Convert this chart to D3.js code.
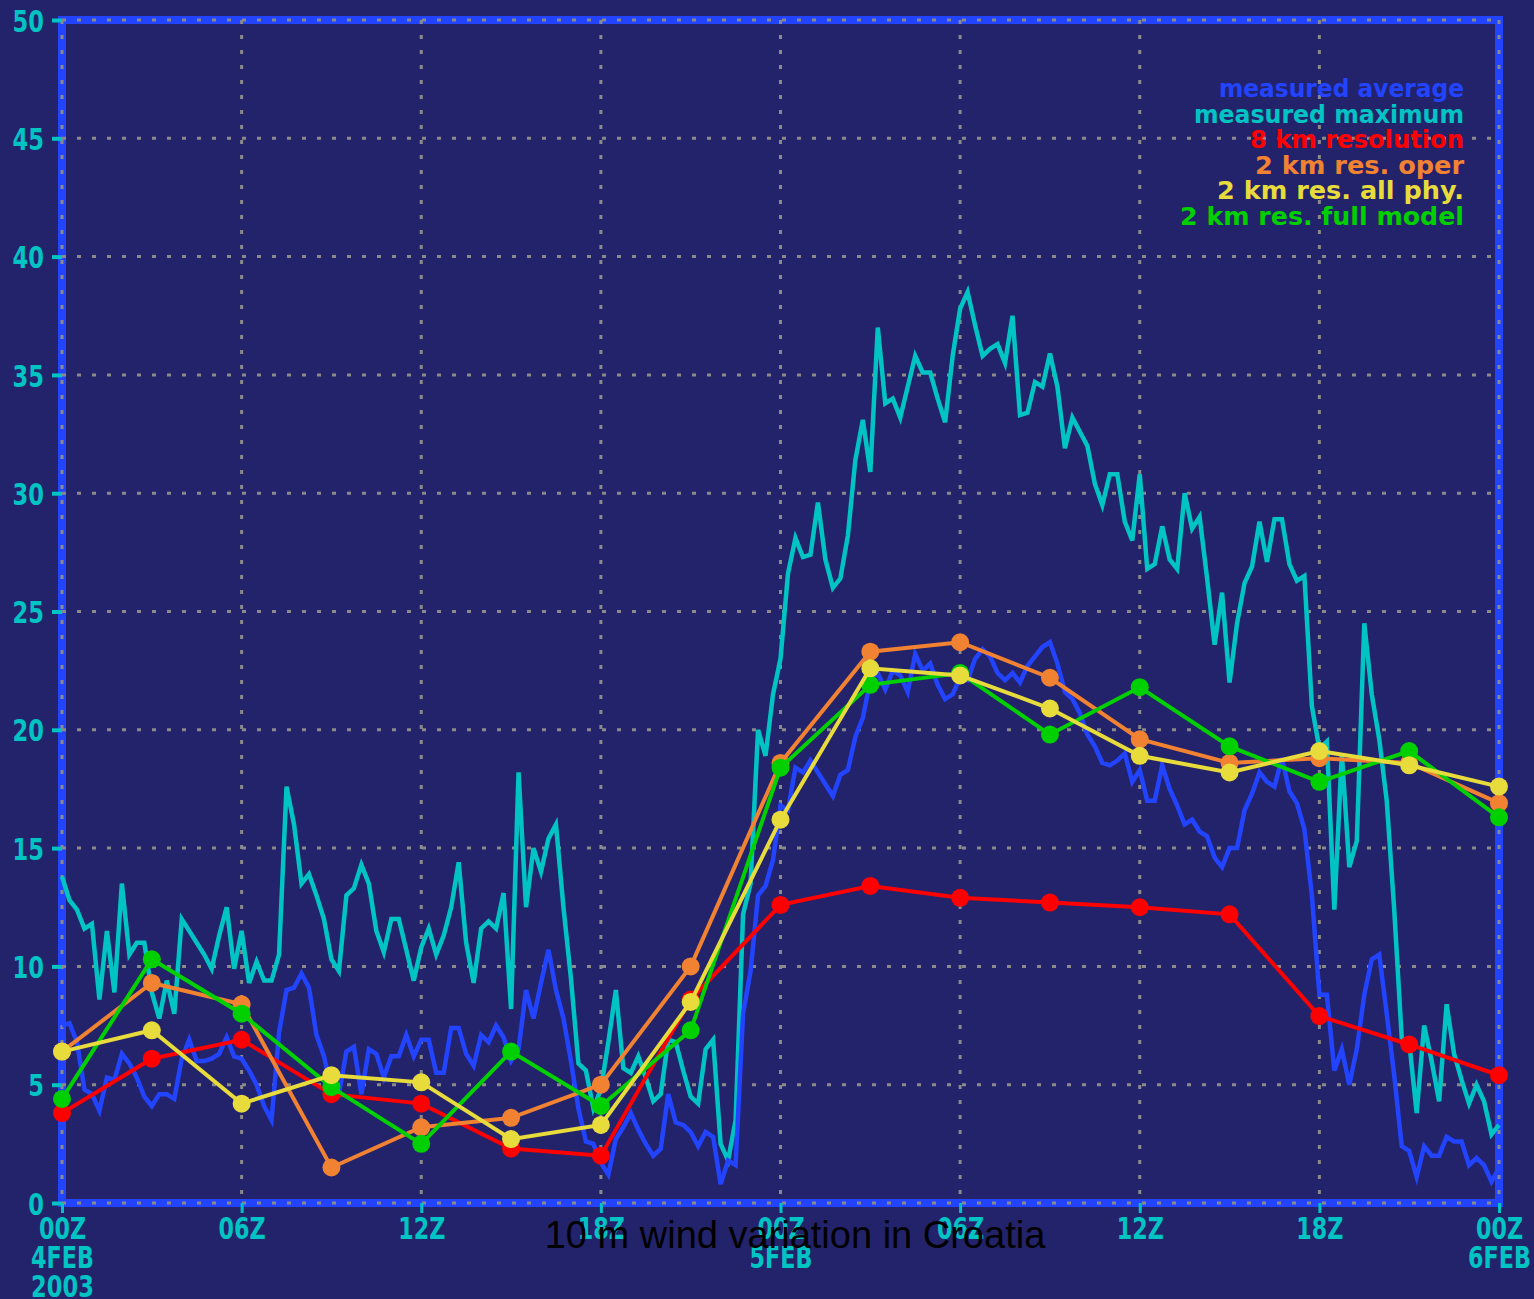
<!DOCTYPE html>
<html>
<head>
<meta charset="utf-8">
<script src="https://cdn.jsdelivr.net/npm/d3@7"></script>
<style>
  body { margin: 0; background: #23236b; }
  svg { display: block; }
</style>
</head>
<body>
<script>

// model runs, every 3 hours from 00Z 4 FEB 2003
var modelHours = [0, 3, 6, 9, 12, 15, 18, 21, 24, 27, 30, 33, 36, 39, 42, 45, 48];
var res8km   = [3.8, 6.1, 6.9, 4.6, 4.2, 2.3, 2.0, 8.6, 12.6, 13.4, 12.9, 12.7, 12.5, 12.2, 7.9, 6.7, 5.4];
var res2oper = [6.4, 9.3, 8.4, 1.5, 3.2, 3.6, 5.0, 10.0, 18.6, 23.3, 23.7, 22.2, 19.6, 18.6, 18.8, 18.6, 16.9];
var res2phy  = [6.4, 7.3, 4.2, 5.4, 5.1, 2.7, 3.3, 8.5, 16.2, 22.6, 22.3, 20.9, 18.9, 18.2, 19.1, 18.5, 17.6];
var res2full = [4.4, 10.3, 8.0, 4.9, 2.5, 6.4, 4.1, 7.3, 18.4, 21.9, 22.4, 19.8, 21.8, 19.3, 17.8, 19.1, 16.3];

// measurements, every 15 minutes
var measStep = 0.25;
var measMax = [
  13.8, 12.8, 12.4, 11.6, 11.8, 8.6, 11.5, 8.9, 13.5, 10.5, 11.0, 11.0, 8.9, 7.8, 9.4, 8.0,
  12.0, 11.5, 11.0, 10.5, 9.9, 11.3, 12.5, 9.9, 11.5, 9.3, 10.2, 9.4, 9.4, 10.5, 17.6, 16.0,
  13.5, 13.9, 13.0, 12.0, 10.3, 9.8, 13.0, 13.3, 14.3, 13.5, 11.5, 10.6, 12.0, 12.0, 10.7, 9.4,
  10.8, 11.6, 10.5, 11.3, 12.5, 14.4, 11.0, 9.3, 11.6, 11.9, 11.6, 13.1, 8.2, 18.2, 12.5, 15.0,
  14.0, 15.4, 16.0, 12.5, 9.5, 5.9, 5.6, 4.0, 4.8, 6.8, 9.0, 5.7, 5.5, 6.2, 5.3, 4.3,
  4.6, 6.9, 6.8, 5.6, 4.5, 4.2, 6.5, 6.9, 2.5, 1.8, 3.5, 12.2, 13.5, 20.0, 18.9, 21.5,
  23.0, 26.6, 28.1, 27.3, 27.4, 29.6, 27.2, 26.0, 26.4, 28.2, 31.4, 33.1, 30.9, 37.0, 33.8, 34.0,
  33.2, 34.5, 35.8, 35.1, 35.1, 34.0, 33.0, 35.8, 37.8, 38.5, 37.1, 35.8, 36.1, 36.3, 35.5, 37.5,
  33.3, 33.4, 34.7, 34.5, 35.9, 34.5, 31.9, 33.2, 32.6, 32.0, 30.4, 29.5, 30.8, 30.8, 28.8, 28.0,
  30.8, 26.8, 27.0, 28.6, 27.2, 26.8, 30.0, 28.5, 29.0, 26.4, 23.6, 25.8, 22.0, 24.5, 26.2, 26.9,
  28.8, 27.1, 28.9, 28.9, 27.0, 26.3, 26.5, 21.0, 19.2, 19.5, 12.4, 19.0, 14.2, 15.3, 24.5, 21.5,
  19.6, 17.0, 12.4, 7.0, 6.8, 3.8, 7.5, 6.0, 4.3, 8.4, 6.3, 5.2, 4.2, 5.0, 4.3, 2.9,
  3.3
];
var measAvg = [
  7.5, 7.6, 6.8, 4.8, 4.6, 3.9, 5.3, 5.2, 6.3, 5.9, 5.3, 4.5, 4.1, 4.6, 4.6, 4.4,
  6.1, 6.9, 6.0, 6.0, 6.1, 6.3, 7.0, 6.2, 6.1, 5.6, 5.0, 4.1, 3.5, 7.2, 9.0, 9.1,
  9.7, 9.1, 7.1, 6.2, 4.8, 4.6, 6.4, 6.6, 4.6, 6.5, 6.3, 5.3, 6.2, 6.2, 7.1, 6.2,
  6.9, 6.9, 5.5, 5.5, 7.4, 7.4, 6.3, 5.8, 7.1, 6.8, 7.5, 7.0, 6.0, 6.5, 9.0, 7.8,
  9.3, 10.7, 9.0, 7.8, 6.0, 4.0, 2.6, 2.5, 1.7, 1.2, 2.7, 3.2, 3.8, 3.1, 2.5, 2.0,
  2.3, 4.6, 3.4, 3.3, 3.0, 2.4, 3.0, 2.8, 0.8, 1.8, 1.6, 8.0, 9.8, 13.0, 13.4, 14.5,
  16.8, 16.6, 18.4, 18.2, 18.7, 18.2, 17.7, 17.2, 18.1, 18.3, 19.7, 20.5, 22.1, 22.4, 21.7, 22.5,
  22.3, 21.6, 23.2, 22.5, 22.8, 21.9, 21.3, 21.5, 22.2, 22.1, 23.0, 23.4, 23.1, 22.4, 22.1, 22.4,
  22.0, 22.7, 23.1, 23.5, 23.7, 22.8, 21.6, 21.3, 20.7, 19.8, 19.3, 18.6, 18.5, 18.7, 19.0, 17.8,
  18.3, 17.0, 17.0, 18.5, 17.5, 16.8, 16.0, 16.2, 15.7, 15.5, 14.6, 14.2, 15.0, 15.0, 16.6, 17.3,
  18.2, 17.8, 17.6, 18.8, 17.4, 16.9, 15.8, 13.0, 8.8, 8.8, 5.6, 6.5, 5.0, 6.5, 8.8, 10.3,
  10.5, 8.0, 5.4, 2.4, 2.2, 1.1, 2.4, 2.0, 2.0, 2.8, 2.6, 2.6, 1.6, 1.9, 1.6, 0.9,
  1.5
];

// axis ticks
var xTickHours = [0, 6, 12, 18, 24, 30, 36, 42, 48];
var xTickLabels = [["00Z", "4FEB", "2003"], ["06Z"], ["12Z"], ["18Z"], ["00Z", "5FEB"], ["06Z"], ["12Z"], ["18Z"], ["00Z", "6FEB"]];
var yTicks = [0, 5, 10, 15, 20, 25, 30, 35, 40, 45, 50];

var legendNames = ["measured average", "measured maximum", "8 km resolution", "2 km res. oper", "2 km res. all phy.", "2 km res. full model"];
var legendColors = ["#2244ff", "#00c4c4", "#ff0000", "#f08232", "#e8dc3c", "#00d000"];

var chartTitle = "10 m wind variation in Croatia";

function visualise(){

    var W = 1534, H = 1299;
    var left = 62, right = 1499, top = 20, bottom = 1203;
    var tickFont = "'DejaVu Sans Condensed', 'DejaVu Sans', sans-serif";
    var charW = 15.7;   // width of one tick label glyph
    var legendWidths = [245, 270, 214, 209, 247, 284];

    var svg = d3.select("body").append("svg")
              .attr("width", W)
              .attr("height", H);

    svg.append("rect").attr("width", W).attr("height", H).attr("fill", "#23236b");

    // scales
    var x = d3.scaleLinear().domain([0, 48]).range([left, right]);
    var y = d3.scaleLinear().domain([0, 50]).range([bottom, top]);

    // frame
    svg.append("rect")
       .attr("x", left).attr("y", top)
       .attr("width", right - left).attr("height", bottom - top)
       .attr("fill", "none")
       .attr("stroke", "#2244ff")
       .attr("stroke-width", 8);

    // grid
    var grid = svg.append("g").attr("stroke", "#8a8a8a").attr("stroke-width", 3).attr("stroke-dasharray", "4,11");
    grid.selectAll(".gy").data(yTicks).enter().append("line")
        .attr("x1", left).attr("x2", right)
        .attr("y1", function(d){ return y(d); }).attr("y2", function(d){ return y(d); });
    grid.selectAll(".gx").data(xTickHours).enter().append("line")
        .attr("y1", top).attr("y2", bottom)
        .attr("x1", function(d){ return x(d); }).attr("x2", function(d){ return x(d); });

    // y axis
    var yAxis = svg.append("g")
        .attr("transform", "translate(" + left + ",0)")
        .call(d3.axisLeft(y).tickValues(yTicks).tickSize(10).tickPadding(8));
    yAxis.select(".domain").remove();
    yAxis.selectAll("line").attr("stroke", "#00c4c4").attr("stroke-width", 4).attr("x2", -10).attr("x1", 0);
    yAxis.selectAll("text")
        .attr("fill", "#00c4c4")
        .attr("x", -18)
        .attr("dy", "0.36em")
        .attr("textLength", function(d){ return String(d).length * charW; })
        .attr("lengthAdjust", "spacingAndGlyphs")
        .style("font-family", tickFont)
        .style("font-weight", "bold")
        .style("font-size", "31px");

    // x axis
    var xAxis = svg.append("g")
        .attr("transform", "translate(0," + bottom + ")")
        .call(d3.axisBottom(x).tickValues(xTickHours).tickSize(10).tickFormat(""));
    xAxis.select(".domain").remove();
    xAxis.selectAll("line").attr("stroke", "#00c4c4").attr("stroke-width", 3);
    xAxis.selectAll(".tick").each(function(d){
        var lines = xTickLabels[xTickHours.indexOf(d)];
        var g = d3.select(this);
        g.select("text").remove();
        g.selectAll(".lab").data(lines).enter().append("text")
            .attr("class", "lab")
            .attr("x", 0)
            .attr("y", function(l, i){ return 36 + i * 29; })
            .attr("text-anchor", "middle")
            .attr("fill", "#00c4c4")
            .attr("textLength", function(l){ return l.length * charW; })
            .attr("lengthAdjust", "spacingAndGlyphs")
            .style("font-family", tickFont)
            .style("font-weight", "bold")
            .style("font-size", "31px")
            .text(function(l){ return l; });
    });

    // measured lines
    var measLine = d3.line()
        .x(function(d, i){ return x(i * measStep); })
        .y(function(d){ return y(d); });

    svg.append("path").datum(measMax)
       .attr("d", measLine)
       .attr("fill", "none").attr("stroke", "#00c4c4").attr("stroke-width", 4.5);
    svg.append("path").datum(measAvg)
       .attr("d", measLine)
       .attr("fill", "none").attr("stroke", "#2244ff").attr("stroke-width", 4.5);

    // model runs
    var modelLine = d3.line()
        .x(function(d, i){ return x(modelHours[i]); })
        .y(function(d){ return y(d); });

    var models = [
        {vals: res8km,   color: "#ff0000"},
        {vals: res2oper, color: "#f08232"},
        {vals: res2full, color: "#00d000"},
        {vals: res2phy,  color: "#e8dc3c"}
    ];

    models.forEach(function(m){
        svg.append("path").datum(m.vals)
           .attr("d", modelLine)
           .attr("fill", "none").attr("stroke", m.color).attr("stroke-width", 4);
        svg.append("g").selectAll("circle").data(m.vals).enter().append("circle")
           .attr("cx", function(d, i){ return x(modelHours[i]); })
           .attr("cy", function(d){ return y(d); })
           .attr("r", 9)
           .attr("fill", m.color);
    });

    // legend
    svg.append("g").selectAll("text").data(legendNames).enter().append("text")
       .attr("x", 1464)
       .attr("y", function(d, i){ return 97 + i * 25.6; })
       .attr("text-anchor", "end")
       .attr("fill", function(d, i){ return legendColors[i]; })
       .attr("textLength", function(d, i){ return legendWidths[i]; })
       .attr("lengthAdjust", "spacingAndGlyphs")
       .style("font-family", "'DejaVu Sans', sans-serif")
       .style("font-weight", "bold")
       .style("font-size", "24px")
       .text(function(d){ return d; });

    // title
    svg.append("text")
       .attr("x", 795).attr("y", 1248)
       .attr("text-anchor", "middle")
       .attr("fill", "#000")
       .style("font-family", "'Liberation Sans', Arial, sans-serif")
       .style("font-size", "38px")
       .text(chartTitle);
}

visualise();

</script>
</body>
</html>
